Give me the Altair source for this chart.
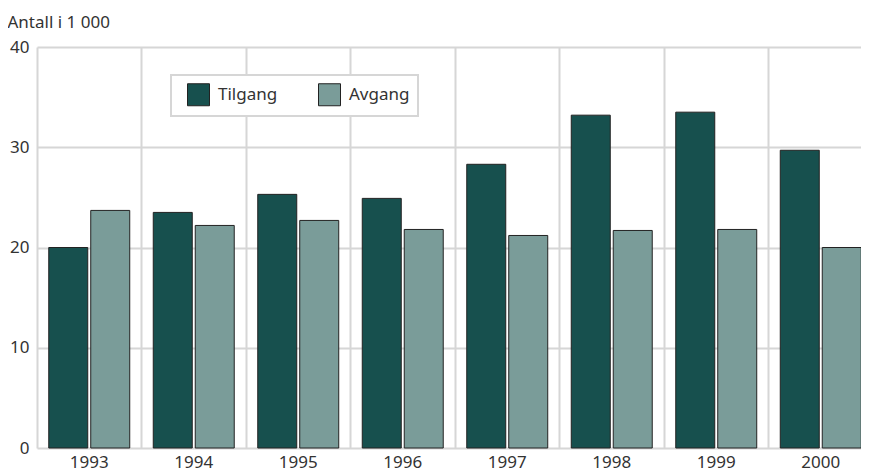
import altair as alt
import pandas as pd

years = ["1993", "1994", "1995", "1996", "1997", "1998", "1999", "2000"]
tilgang = [20.0, 23.5, 25.3, 24.9, 28.3, 33.2, 33.5, 29.7]
avgang = [23.7, 22.2, 22.7, 21.8, 21.2, 21.7, 21.8, 20.0]
series = ["Tilgang", "Avgang"]
colors = ["#17504e", "#7a9c99"]

rows = []
for i, y in enumerate(years):
    rows.append({"year": y, "series": "Tilgang", "value": tilgang[i]})
    rows.append({"year": y, "series": "Avgang", "value": avgang[i]})
df = pd.DataFrame(rows)

FONT = "Noto Sans"
GRID = "#d6d6d6"

chart = alt.Chart(df).mark_bar(stroke="#222222", strokeWidth=1).encode(
    x=alt.X("year:N", sort=years, title=None,
            scale=alt.Scale(paddingInner=0, paddingOuter=0, range=[0, 836]),
            axis=alt.Axis(grid=True, bandPosition=0, ticks=False, domain=False,
                          labelAngle=0, labelFontSize=17, labelPadding=6,
                          labelColor="#333333", labelFont=FONT,
                          gridColor=GRID, gridWidth=2)),
    xOffset=alt.XOffset("series:N", sort=series,
                        scale=alt.Scale(paddingInner=0.071, paddingOuter=0.28)),
    y=alt.Y("value:Q", scale=alt.Scale(domain=[0, 40]),
            title="Antall i 1 000",
            axis=alt.Axis(values=[0, 10, 20, 30, 40], ticks=False, domain=False,
                          grid=True, gridColor=GRID, gridWidth=2,
                          labelFontSize=17, labelPadding=8, labelColor="#333333",
                          labelFont=FONT,
                          titleAngle=0, titleAlign="left", titleBaseline="alphabetic",
                          titleX=-30, titleY=-20, titleFontSize=17,
                          titleFontWeight="normal", titleColor="#333333",
                          titleFont=FONT)),
    color=alt.Color("series:N", sort=series,
                    scale=alt.Scale(domain=series, range=colors),
                    legend=alt.Legend(title=None, orient="none", legendX=134, legendY=28,
                                      direction="horizontal", fillColor="white",
                                      strokeColor="#d6d6d6", padding=8,
                                      symbolType="square", symbolSize=484,
                                      symbolStrokeColor="#222222", symbolStrokeWidth=1,
                                      symbolOffset=8, labelOffset=8,
                                      labelFontSize=17, labelColor="#333333",
                                      labelFont=FONT, columnPadding=32)),
).properties(
    width=824, height=401,
    padding={"left": 29, "top": 39, "right": 0, "bottom": 24},
    autosize="none",
).configure_view(stroke=None).configure_legend(strokeWidth=2)

chart.save("out.html", embed_options={"renderer": "svg", "actions": False})
